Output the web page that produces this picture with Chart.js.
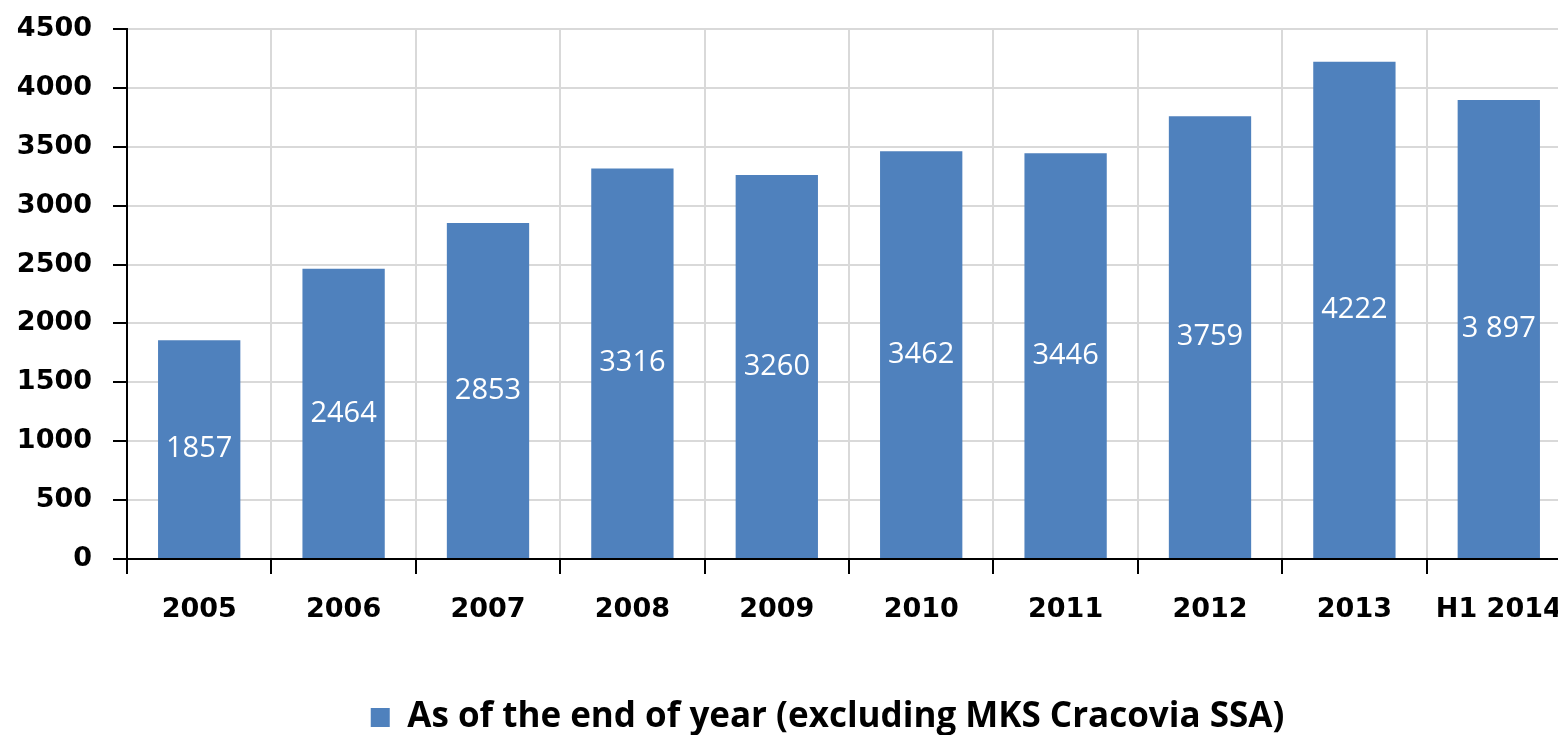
<!DOCTYPE html>
<html>
<head>
<meta charset="utf-8">
<script src="https://cdn.jsdelivr.net/npm/chart.js@4.4.0/dist/chart.umd.min.js"></script>
<style>
  html, body { margin: 0; padding: 0; background: #fff; overflow: hidden; }
  #wrap { width: 1572px; height: 735px; }
</style>
</head>
<body>
<div id="wrap"><canvas id="chart"></canvas></div>
<script>
const years = ['2005', '2006', '2007', '2008', '2009', '2010', '2011', '2012', '2013', 'H1 2014'];
const employees = [1857, 2464, 2853, 3316, 3260, 3462, 3446, 3759, 4222, 3897];
const valueLabels = ['1857', '2464', '2853', '3316', '3260', '3462', '3446', '3759', '4222', '3 897'];
const seriesName = 'As of the end of year (excluding MKS Cracovia SSA)';

// white value text in the middle of each bar
const barText = {
    id: 'barText',
    afterDatasetsDraw(chart) {
        const ctx = chart.ctx;
        const meta = chart.getDatasetMeta(0);
        ctx.save();
        ctx.fillStyle = '#ffffff';
        ctx.font = '29px "Open Sans"';
        ctx.textAlign = 'center';
        ctx.textBaseline = 'middle';
        meta.data.forEach((bar, i) => {
            const y = (bar.y + bar.base) / 2;
            ctx.fillText(valueLabels[i], bar.x, y);
        });
        ctx.restore();
    }
};

// legend in the original sits a bit right of the canvas centre
const legendShift = {
    id: 'legendShift',
    afterLayout(chart) {
        chart.legend.left += 42;
        chart.legend.right += 42;
    }
};

const tickFont = { family: '"DejaVu Sans"', size: 27, weight: 'bold' };

new Chart(document.getElementById('chart'), {
    type: 'bar',
    data: {
        labels: years,
        datasets: [{
            label: seriesName,
            data: employees,
            backgroundColor: '#4f81bd',
            barPercentage: 0.57,
            categoryPercentage: 1
        }]
    },
    options: {
        responsive: true,
        maintainAspectRatio: false,
        animation: false,
        layout: { padding: { top: 29, right: 1, left: 0, bottom: -10 } },
        plugins: {
            tooltip: { enabled: false },
            legend: {
                position: 'bottom',
                labels: {
                    color: '#000',
                    font: { family: '"Open Sans"', size: 35, weight: 'bold' },
                    boxWidth: 19,
                    boxHeight: 19,
                    padding: 1
                }
            }
        },
        scales: {
            x: {
                afterFit(scale) {
                    scale.height = 140;
                    scale.paddingLeft = 0;
                    scale.paddingRight = 0;
                },
                grid: { color: '#d9d9d9', lineWidth: 2, tickColor: '#000', tickLength: 15, tickWidth: 2 },
                border: { color: '#000', width: 2 },
                ticks: { color: '#000', font: tickFont, padding: 20, maxRotation: 0 }
            },
            y: {
                min: 0,
                max: 4500,
                afterFit(scale) {
                    scale.width = 127;
                    scale.paddingTop = 0;
                    scale.paddingBottom = 0;
                },
                grid: { color: '#d9d9d9', lineWidth: 2, tickColor: '#000', tickLength: 14, tickWidth: 2 },
                border: { color: '#000', width: 2 },
                ticks: { color: '#000', font: tickFont, stepSize: 500, padding: 21, callback: v => String(v) }
            }
        }
    },
    plugins: [barText, legendShift]
});
</script>
</body>
</html>
